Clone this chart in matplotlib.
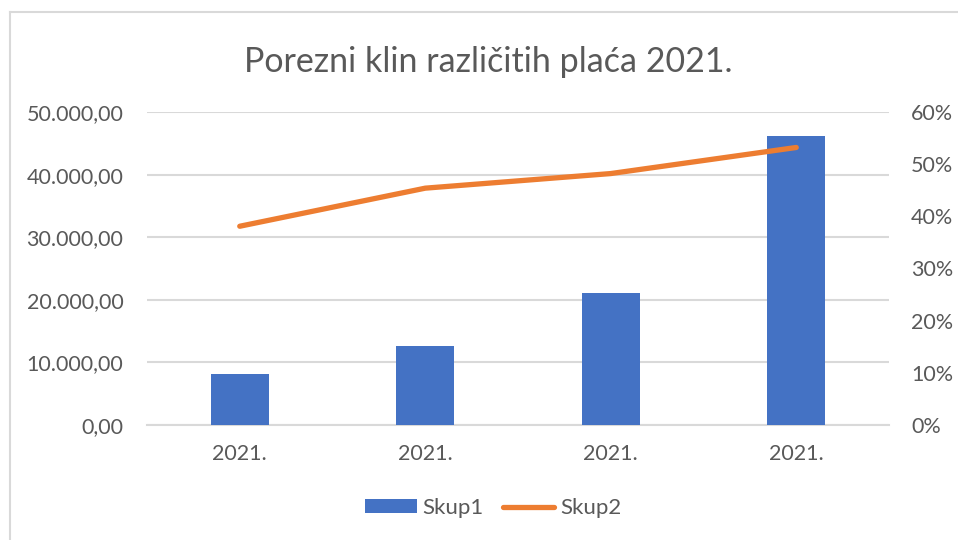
import matplotlib.pyplot as plt
from matplotlib.lines import Line2D
from matplotlib.ticker import FuncFormatter, MultipleLocator

# data
categories = ['2021.', '2021.', '2021.', '2021.']
skup1 = [8100, 12600, 21100, 46100]
skup2 = [0.381, 0.454, 0.482, 0.532]

plt.rcParams['font.family'] = ['Lato', 'DejaVu Sans']
txt = '#595959'
grid = '#d9d9d9'

fig = plt.figure(figsize=(9.58, 5.4), dpi=100)
ax = fig.add_axes([147 / 958, 115 / 540, 742 / 958, 313 / 540])
ax2 = ax.twinx()

x = list(range(len(categories)))
bars = ax.bar(x, skup1, width=0.31, color='#4472C4', zorder=3, label='Skup1')
ln, = ax2.plot(x, skup2, color='#ED7D31', lw=3.8, solid_capstyle='round',
               solid_joinstyle='round', zorder=4, label='Skup2')

ax.set_xlim(-0.5, 3.5)
ax.set_ylim(0, 50000)
ax2.set_ylim(0, 0.6)
ax.yaxis.set_major_locator(MultipleLocator(10000))
ax2.yaxis.set_major_locator(MultipleLocator(0.1))

def hr_num(v, pos):
    s = '{:,.2f}'.format(v)
    return s.replace(',', 'X').replace('.', ',').replace('X', '.')

ax.yaxis.set_major_formatter(FuncFormatter(hr_num))
ax2.yaxis.set_major_formatter(FuncFormatter(lambda v, p: '{:.0f}%'.format(v * 100)))

ax.set_xticks(x)
ax.set_xticklabels(categories)
ax.grid(axis='y', color=grid, lw=1.5, zorder=0)
ax.set_axisbelow(True)

for a in (ax, ax2):
    for s in a.spines.values():
        s.set_visible(False)
    a.tick_params(length=0, labelsize=15.5, colors=txt)
ax.spines['bottom'].set_visible(True)
ax.spines['bottom'].set_color(grid)
ax.spines['bottom'].set_linewidth(1.5)
ax.tick_params(axis='y', pad=17)
ax.tick_params(axis='x', pad=14)
ax2.tick_params(axis='y', pad=16)
ax2.set_zorder(ax.get_zorder() + 1)
ax2.patch.set_visible(False)

fig.text(0.51, 1 - 62 / 540, 'Porezni klin različitih plaća 2021.',
         ha='center', va='center', fontsize=24.5, color=txt)

leg = fig.legend([bars, ln], ['Skup1', 'Skup2'], loc='center',
                 bbox_to_anchor=(0.515, 1 - 508 / 540), ncol=2, frameon=False,
                 fontsize=16, handlelength=2.3, handleheight=0.6,
                 columnspacing=0.9, handletextpad=0.25)
for t in leg.get_texts():
    t.set_color(txt)

# chart area frame (only left and top edges visible in the crop)
fig.add_artist(Line2D([9.5 / 958, 9.5 / 958], [0, 1 - 12 / 540],
                      transform=fig.transFigure, color=grid, lw=1.5))
fig.add_artist(Line2D([9.5 / 958, 1], [1 - 12 / 540, 1 - 12 / 540],
                      transform=fig.transFigure, color=grid, lw=1.5))

fig.savefig('out.png', dpi=100)
